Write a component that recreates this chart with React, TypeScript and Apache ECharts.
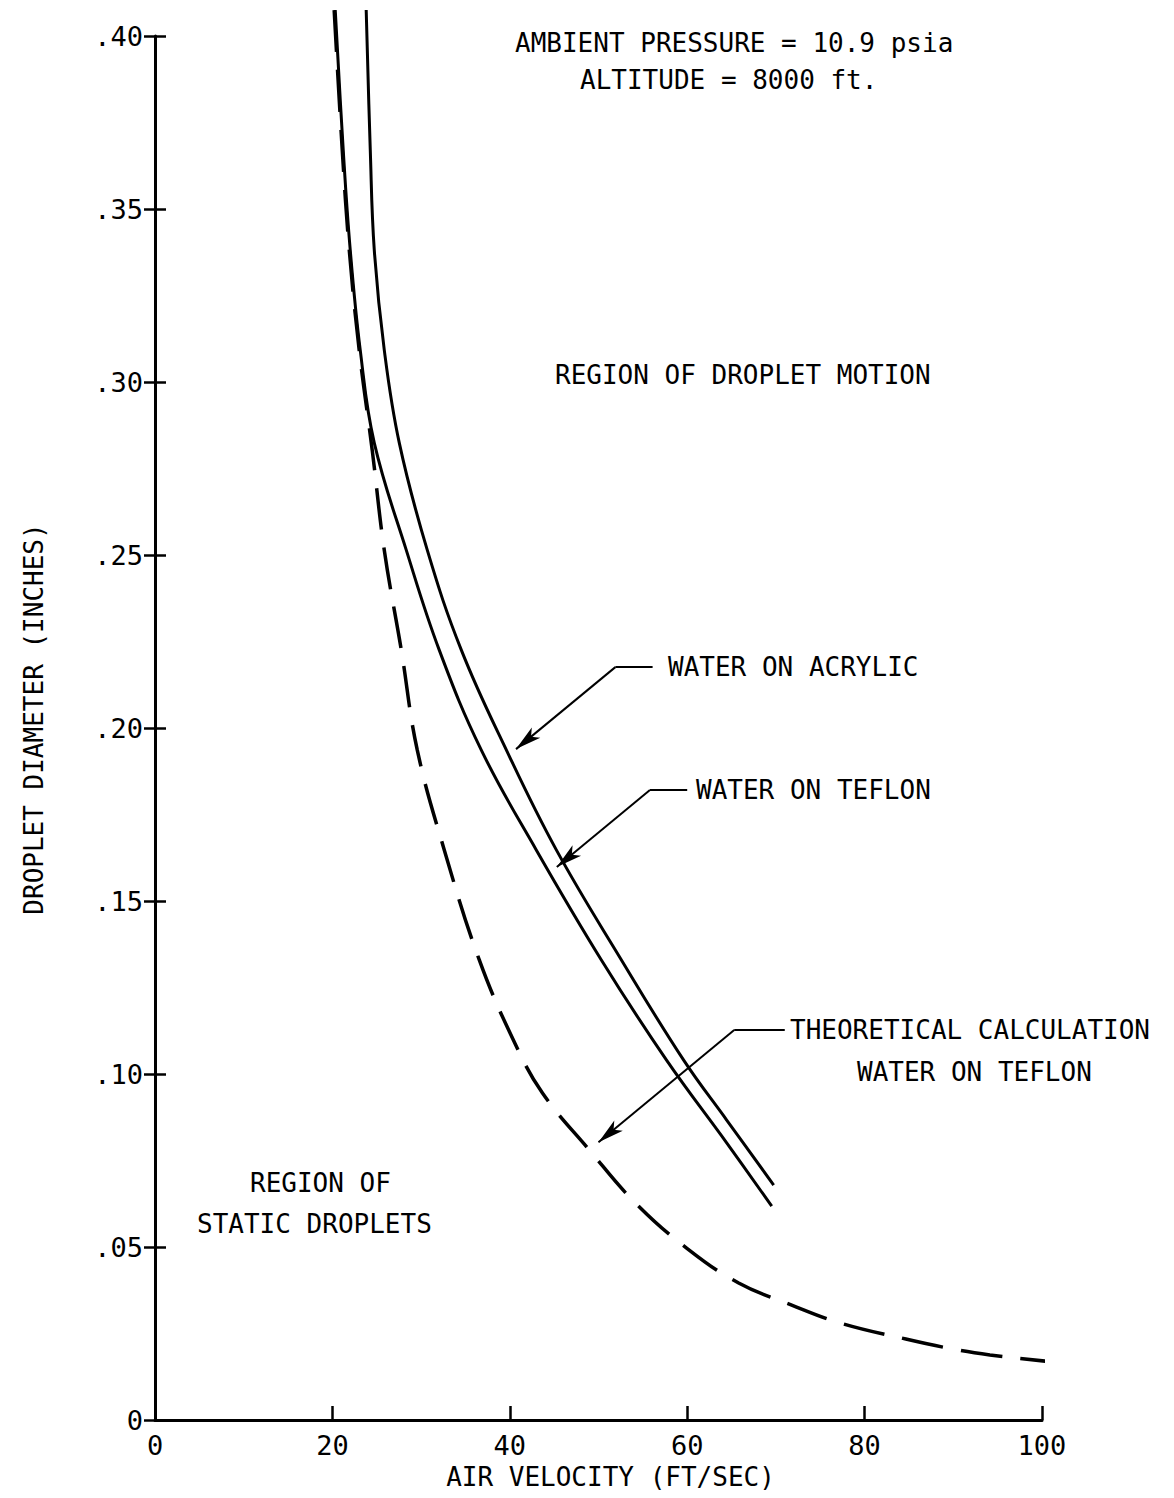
import React, { useEffect, useRef } from "react";
import * as echarts from "echarts";

const FONT = '"DejaVu Sans Mono", "Liberation Mono", monospace';

// x ticks 0..100 step 20, y ticks 0..0.40 step 0.05
const xMin = 0, xMax = 100, xStep = 20;
const yMin = 0, yMax = 0.4, yStep = 0.05;

// Water on Teflon (measured)
const teflonX = [20.32, 21.22, 22.01, 23.14, 24.72, 28.33, 32.05, 36.79, 43.0, 50.34, 57.67, 64.45, 69.53];
const teflonY = [0.4075, 0.3671, 0.3382, 0.3092, 0.2824, 0.2514, 0.2225, 0.1936, 0.1647, 0.1329, 0.104, 0.0801, 0.0618];

// Water on Acrylic (measured)
const acrylicX = [23.81, 24.27, 24.72, 25.85, 27.54, 30.7, 34.54, 39.62, 45.26, 52.6, 59.6, 64.45, 69.75];
const acrylicY = [0.4075, 0.3671, 0.3382, 0.3092, 0.2824, 0.2514, 0.2225, 0.1936, 0.1647, 0.1329, 0.104, 0.0867, 0.0679];

// Theoretical calculation, water on Teflon
const theoX = [20.2, 21.11, 21.9, 23.02, 24.49, 25.85, 27.77, 29.57, 32.62, 36.57, 40.52, 43.68, 48.98, 54.06, 59.93, 65.8, 71.78, 77.31, 84.65, 89.95, 94.13, 101.13];
const theoY = [0.4075, 0.3671, 0.3382, 0.3092, 0.2803, 0.2514, 0.2225, 0.1936, 0.1647, 0.1329, 0.1092, 0.0945, 0.078, 0.063, 0.0497, 0.0396, 0.0332, 0.028, 0.0234, 0.0205, 0.0188, 0.0168];

// Leader lines: [elbow x, elbow y, text-side x, arrow x, arrow y]
const acrylicLeader = [51.9, 0.2176, 56.1, 40.7, 0.1939];
const teflonLeader = [55.8, 0.1821, 60.0, 45.3, 0.1598];
const theoLeader = [65.3, 0.1127, 71.0, 50.0, 0.0803];

const zip = (xs: number[], ys: number[]) => xs.map((x, i) => [x, ys[i]]);

function leader(l: number[]) {
  const [ex, ey, tx, ax, ay] = l;
  return [
    [
      { coord: [ex, ey], symbol: "none" },
      { coord: [tx, ey], symbol: "none" },
    ],
    [
      { coord: [ex, ey], symbol: "none" },
      { coord: [ax, ay], symbol: "arrow", symbolSize: [10, 26] },
    ],
  ];
}

const texts = [
  { t: "AMBIENT PRESSURE = 10.9 psia", x: 515, y: 43 },
  { t: "ALTITUDE = 8000 ft.", x: 580, y: 80 },
  { t: "REGION OF DROPLET MOTION", x: 555, y: 375 },
  { t: "WATER ON ACRYLIC", x: 668, y: 667 },
  { t: "WATER ON TEFLON", x: 696, y: 790 },
  { t: "THEORETICAL CALCULATION", x: 790, y: 1030 },
  { t: "WATER ON TEFLON", x: 857, y: 1072 },
  { t: "REGION OF", x: 250, y: 1183 },
  { t: "STATIC DROPLETS", x: 197, y: 1224 },
];

export default function App() {
  const ref = useRef<HTMLDivElement>(null);
  useEffect(() => {
    document.body.style.margin = "0";
    const chart = echarts.init(ref.current!, undefined, { renderer: "svg" });
    const black = "#000";
    const yLabel = (v: number) => {
      const n = Math.round(v * 100);
      return n === 0 ? "0" : "." + String(n).padStart(2, "0");
    };
    const option: any = {
      animation: false,
      backgroundColor: "#fff",
      textStyle: { fontFamily: FONT, color: black },
      grid: { left: 155, right: 132, top: 36, bottom: 78 },
      xAxis: {
        type: "value",
        min: xMin,
        max: xMax,
        interval: xStep,
        name: "AIR VELOCITY (FT/SEC)",
        nameLocation: "middle",
        nameGap: 44,
        nameTextStyle: { fontFamily: FONT, fontSize: 26, color: black, padding: [0, 0, 0, 24] },
        axisLine: { lineStyle: { color: black, width: 3 } },
        axisTick: { inside: true, length: 14, lineStyle: { color: black, width: 2.5 } },
        axisLabel: { fontFamily: FONT, fontSize: 27, color: black, margin: 12 },
        splitLine: { show: false },
      },
      yAxis: [
        {
          type: "value",
          min: yMin,
          max: yMax,
          interval: yStep,
          name: "DROPLET DIAMETER (INCHES)",
          nameLocation: "middle",
          nameRotate: 90,
          nameGap: 108,
          nameTextStyle: { fontFamily: FONT, fontSize: 26, color: black, padding: [0, 0, 0, 18] },
          axisLine: { lineStyle: { color: black, width: 3 } },
          axisTick: { show: false },
          axisLabel: { fontFamily: FONT, fontSize: 27, color: black, margin: 12, formatter: yLabel },
          splitLine: { show: false },
        },
        {
          // crossing ticks: axis shifted 11px inside, ticks 22px outward
          type: "value",
          min: yMin,
          max: yMax,
          interval: yStep,
          position: "left",
          offset: -11,
          axisLine: { show: false, onZero: false },
          axisTick: { show: true, inside: false, length: 22, lineStyle: { color: black, width: 2.5 } },
          axisLabel: { show: false },
          splitLine: { show: false },
        },
      ],
      series: [
        {
          name: "WATER ON ACRYLIC",
          type: "line",
          data: zip(acrylicX, acrylicY),
          smooth: 0.4,
          showSymbol: false,
          clip: false,
          lineStyle: { color: black, width: 3 },
          markLine: {
            silent: true,
            symbol: ["none", "none"],
            label: { show: false },
            lineStyle: { color: black, width: 2, type: "solid" },
            itemStyle: { color: black },
            data: [...leader(acrylicLeader), ...leader(teflonLeader), ...leader(theoLeader)],
          },
        },
        {
          name: "WATER ON TEFLON",
          type: "line",
          data: zip(teflonX, teflonY),
          smooth: 0.4,
          showSymbol: false,
          clip: false,
          lineStyle: { color: black, width: 3 },
        },
        {
          name: "THEORETICAL CALCULATION WATER ON TEFLON",
          type: "line",
          yAxisIndex: 1,
          data: zip(theoX, theoY),
          smooth: 0.4,
          showSymbol: false,
          clip: false,
          lineStyle: { color: black, width: 3.5, type: [42, 18] },
        },
      ],
      graphic: texts.map((d) => ({
        type: "text",
        x: d.x,
        y: d.y,
        style: {
          text: d.t,
          fontFamily: FONT,
          fontSize: 26,
          fill: black,
          align: "left",
          verticalAlign: "middle",
        },
      })),
    };
    chart.setOption(option);
    return () => chart.dispose();
  }, []);
  return <div ref={ref} style={{ width: 1174, height: 1498 }} />;
}
